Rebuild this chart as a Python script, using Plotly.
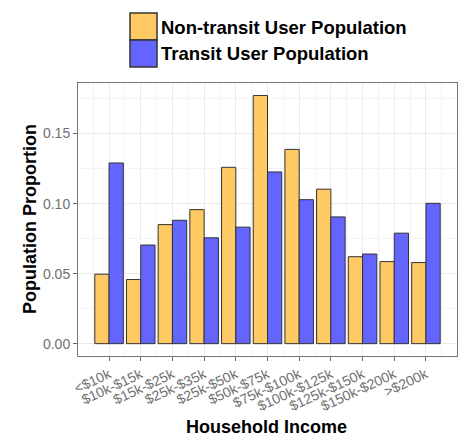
import plotly.graph_objects as go

categories = ["<$10k", "$10k-$15k", "$15k-$25k", "$25k-$35k", "$25k-$50k", "$50k-$75k",
              "$75k-$100k", "$100k-$125k", "$125k-$150k", "$150k-$200k", ">$200k"]
non_transit = [0.0496, 0.0458, 0.0850, 0.0957, 0.1259, 0.1772, 0.1387, 0.1103, 0.0621, 0.0586, 0.0579]
transit = [0.1290, 0.0704, 0.0881, 0.0756, 0.0832, 0.1226, 0.1028, 0.0905, 0.0640, 0.0789, 0.1002]
series_names = ["Non-transit User Population", "Transit User Population"]
series_colors = ["#FFC964", "#6464FF"]
y_ticks = [0.0, 0.05, 0.10, 0.15]
y_tick_labels = ["0.00", "0.05", "0.10", "0.15"]
x_title = "Household Income"
y_title = "Population Proportion"

FONT = "Arial, Liberation Sans, sans-serif"
xpos = list(range(len(categories)))

fig = go.Figure()
for name, vals, col in zip(series_names, [non_transit, transit], series_colors):
    fig.add_trace(go.Bar(
        x=xpos, y=vals, name=name, marker=dict(color=col, line=dict(color="#333333", width=1)),
        showlegend=False,
    ))

fig.update_layout(
    width=462, height=438,
    margin=dict(l=78, r=5, t=83, b=82),
    paper_bgcolor="white", plot_bgcolor="white",
    barmode="group", bargap=0.1, bargroupgap=0,
    font=dict(family=FONT, color="#555555"),
)

fig.update_xaxes(
    range=[-0.98, 10.98], tickvals=xpos, ticktext=categories, tickangle=-25,
    tickfont=dict(size=14, color="#707070"), automargin=False,
    showgrid=True, gridcolor="#EBEBEB", gridwidth=1,
    minor=dict(dtick=0.5, tick0=0.5, showgrid=True, gridcolor="#F4F4F4", gridwidth=0.5),
    ticks="outside", ticklen=4, tickcolor="#666666",
    showline=True, linecolor="#777777", linewidth=1, mirror=True, zeroline=False,
)
fig.update_yaxes(
    range=[-0.0088, 0.1861], tickvals=y_ticks, ticktext=y_tick_labels,
    tickfont=dict(size=14, color="#707070"), automargin=False,
    showgrid=True, gridcolor="#EBEBEB", gridwidth=1,
    minor=dict(dtick=0.025, tick0=0.025, showgrid=True, gridcolor="#F4F4F4", gridwidth=0.5),
    ticks="outside", ticklen=4, tickcolor="#666666",
    showline=True, linecolor="#777777", linewidth=1, mirror=True, zeroline=False,
)

pw, ph = 379.0, 273.0
def px_x(p):
    return (p - 78) / pw
def px_y(p):
    return 1 + (83 - p) / ph

# Axis titles
fig.add_annotation(xref="paper", yref="paper", x=px_x(266), y=px_y(427), text="<b>" + x_title + "</b>",
                   showarrow=False, xanchor="center", yanchor="middle",
                   font=dict(size=18, color="black", family=FONT))
fig.add_annotation(xref="paper", yref="paper", x=px_x(30), y=px_y(219), text="<b>" + y_title + "</b>",
                   showarrow=False, xanchor="center", yanchor="middle", textangle=-90,
                   font=dict(size=18, color="black", family=FONT))

# Custom legend (large keys as in the reference)
for i, (name, col) in enumerate(zip(series_names, series_colors)):
    top = 13 + 27 * i
    fig.add_shape(type="rect", xref="paper", yref="paper",
                  x0=px_x(130), x1=px_x(157), y0=px_y(top + 27), y1=px_y(top),
                  fillcolor=col, line=dict(color="#333333", width=1.5))
    fig.add_annotation(xref="paper", yref="paper", x=px_x(159), y=px_y(top + 14),
                       text="<b>" + name + "</b>", showarrow=False, xanchor="left", yanchor="middle",
                       font=dict(size=18.5, color="black", family=FONT))

fig.write_html("out.html", config={"displayModeBar": False},
               post_script="document.body.style.margin='0';document.body.style.overflow='hidden';")
